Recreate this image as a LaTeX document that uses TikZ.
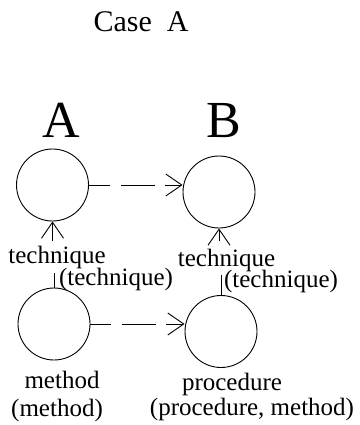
\documentclass[tikz,border=0pt]{standalone}
\usepackage{fontspec}
\setmainfont{Liberation Serif}
\usetikzlibrary{arrows.meta}
\begin{document}
\begin{tikzpicture}[x=1pt,y=-1pt,line width=0.9pt,
    ring/.style={draw,circle,minimum size=72pt,inner sep=0pt},
    lbl/.style={inner sep=0pt,font=\fontsize{25}{30}\selectfont},
    big/.style={inner sep=0pt,anchor=base,font=\fontsize{52}{60}\selectfont},
    stick/.style={-{Straight Barb[length=16pt,width=22pt]}},
    dashlink/.style={stick,dash pattern=on 21pt off 11pt on 34pt off 10pt on 40pt off 0pt}]
    \useasboundingbox (0,0) rectangle (359,425);

    % Titel und Spalten
    \node[lbl,anchor=base,font=\fontsize{30}{36}\selectfont] (title) at (141,32) {Case\ \ A};
    \node[big] (capA) at (61.5,137) {A};
    \node[big] (capB) at (224,137) {B};

    % Kreise
    \node[ring] (a1) at (52.5,185) {};
    \node[ring] (b1) at (219,192) {};
    \node[ring] (a2) at (54,324) {};
    \node[ring] (b2) at (221,331.5) {};

    % Beschriftungen
    \node[lbl] (techA) at (57,257.5) {technique};
    \node[lbl] (techA2) at (116,279.5) {(technique)};
    \node[lbl] (techB) at (226.5,260) {technique};
    \node[lbl] (techB2) at (281,281.5) {(technique)};
    \node[lbl] (methA) at (62,380) {method};
    \node[lbl] (methA2) at (57,410) {(method)};
    \node[lbl] (procB) at (232,384) {procedure};
    \node[lbl] (procB2) at (252,409) {(procedure, method)};

    % Pfeile
    \draw[dashlink] (a1.east) -- (a1.east -| b1.west);
    \draw[dashlink] (a2.east) -- (a2.east -| b2.west);
    \draw[stick] ([yshift=5pt]techA.north -| a1.south) -- (a1.south);
    \draw[stick] ([yshift=7pt]techB.north -| b1.south) -- (b1.south);

    % kurze Striche
    \coordinate (tA) at (54,273);
    \coordinate (tB) at (221,275);
    \draw (tA) -- (a2.north);
    \draw (tB) -- (b2.north);
\end{tikzpicture}
\end{document}
